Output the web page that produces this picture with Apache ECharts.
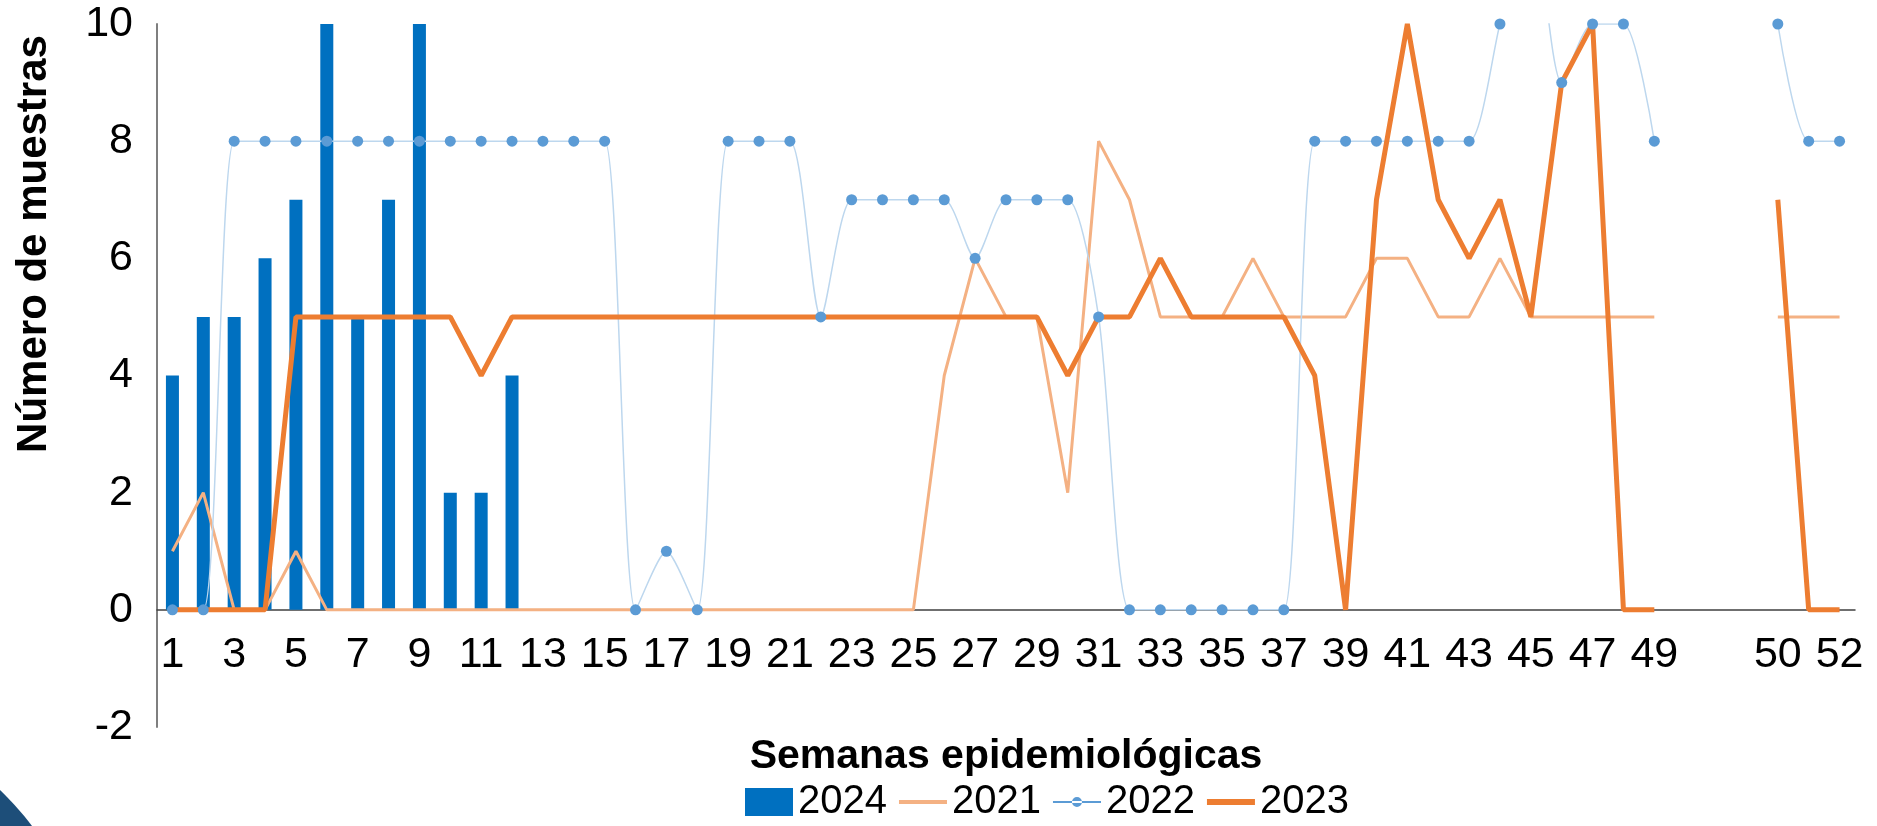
<!DOCTYPE html>
<html>
<head>
<meta charset="utf-8">
<script src="https://cdn.jsdelivr.net/npm/echarts@6/dist/echarts.min.js"></script>
<style>
  html, body { margin: 0; padding: 0; background: #fff; }
  #chart { width: 1877px; height: 826px; }
</style>
</head>
<body>
<div id="chart"></div>
<script>
// semanas 1..49, hueco, 50..52
const weeks = ['1','2','3','4','5','6','7','8','9','10',
  '11','12','13','14','15','16','17','18','19','20',
  '21','22','23','24','25','26','27','28','29','30',
  '31','32','33','34','35','36','37','38','39','40',
  '41','42','43','44','45','46','47','48','49',
  '', '', '', '50','51','52']

const s2024 = [4,5,5,6,7,10,5,7,10,2,2,4]

const s2021 = [1,2,0,0,1,0,0,0,0,0, 0,0,0,0,0,0,0,0,0,0,
  0,0,0,0,0,4,6,5,5,2, 8,7,5,5,5,6,5,5,5,6,
  6,5,5,6,5,5,5,5,5, null,null,null, 5,5,5]

const s2022 = [0,0,8,8,8,8,8,8,8,8, 8,8,8,8,8,0,1,0,8,8,
  8,5,7,7,7,7,6,7,7,7, 5,0,0,0,0,0,0,8,8,8,
  8,8,8,10,12,9,10,10,8, null,null,null, 10,8,8]

const s2023 = [0,0,0,0,5,5,5,5,5,5, 4,5,5,5,5,5,5,5,5,5,
  5,5,5,5,5,5,5,5,5,4, 5,5,6,5,5,5,5,4,0,7,
  10,7,6,7,5,9,10,0,0, null,null,null, 7,0,0]

const font = "'Liberation Sans', Arial, sans-serif"

const chart = echarts.init(document.getElementById('chart'))

chart.setOption({
  animation: false,
  textStyle: { fontFamily: font },
  grid: [
    // datos: de -2 a 10
    { left: 157, right: 22, top: 24, bottom: 99, containLabel: false, outerBoundsMode: 'none' },
    // solo para el eje de semanas sobre la linea del cero
    { left: 157, right: 22, top: 24, bottom: 216, containLabel: false, outerBoundsMode: 'none' }
  ],
  legend: {
    left: 745, top: 782, padding: 0,
    itemWidth: 48, itemHeight: 28, itemGap: 12,
    textStyle: { fontSize: 40, color: '#000', fontFamily: font },
    data: [
      { name: '2024', icon: 'rect' },
      { name: '2021', icon: 'path://M0,0 H48 V4 H0 Z' },
      { name: '2022', icon: 'path://M0,13 H48 V15 H0 Z M19,14 A5,5 0 1,0 29,14 A5,5 0 1,0 19,14 Z' },
      { name: '2023', icon: 'path://M0,0 H48 V6 H0 Z' }
    ]
  },
  xAxis: [
    {
      gridIndex: 0,
      type: 'category',
      data: weeks,
      boundaryGap: true,
      show: false
    },
    {
      gridIndex: 1,
      type: 'category',
      data: weeks,
      boundaryGap: true,
      axisLine: { onZero: false, lineStyle: { color: '#404040', width: 1.5 } },
      axisTick: { show: false },
      axisLabel: { interval: 1, fontSize: 43, color: '#000', margin: 24 }
    }
  ],
  yAxis: [
    {
      gridIndex: 0,
      type: 'value',
      min: -2, max: 10, interval: 2,
      splitLine: { show: false },
      axisLine: { show: true, lineStyle: { color: '#7f7f7f', width: 2 } },
      axisTick: { show: false },
      axisLabel: { fontSize: 43, color: '#000', margin: 24 }
    },
    {
      gridIndex: 1,
      type: 'value',
      min: 0, max: 10,
      show: false
    }
  ],
  graphic: [
    {
      type: 'text',
      x: 34, y: 244,
      rotation: Math.PI / 2,
      style: {
        text: 'Número de muestras',
        font: "bold 42px 'Liberation Sans', Arial, sans-serif",
        fill: '#000',
        align: 'center',
        verticalAlign: 'middle'
      }
    },
    {
      type: 'text',
      x: 1006, y: 757,
      style: {
        text: 'Semanas epidemiológicas',
        font: "bold 41px 'Liberation Sans', Arial, sans-serif",
        fill: '#000',
        align: 'center',
        verticalAlign: 'middle'
      }
    },
    {
      type: 'circle',
      shape: { cx: -200, cy: 1000, r: 290 },
      style: { fill: '#1d4e79' },
      silent: true
    }
  ],
  series: [
    {
      name: '2024',
      type: 'bar',
      data: s2024,
      barWidth: 13,
      itemStyle: { color: '#0070c0' }
    },
    {
      name: '2021',
      type: 'line',
      data: s2021,
      symbol: 'none',
      lineStyle: { color: '#f4b183', width: 3 },
      itemStyle: { color: '#f4b183' }
    },
    {
      name: '2022',
      type: 'line',
      data: s2022,
      smooth: 0.25,
      smoothConstraint: false,
      symbol: 'circle',
      symbolSize: 11,
      lineStyle: { color: '#bdd7ee', width: 1.5 },
      itemStyle: { color: '#5b9bd5' }
    },
    {
      name: '2023',
      type: 'line',
      data: s2023,
      symbol: 'none',
      lineStyle: { color: '#ed7d31', width: 5 },
      itemStyle: { color: '#ed7d31' }
    }
  ]
})
</script>
</body>
</html>
